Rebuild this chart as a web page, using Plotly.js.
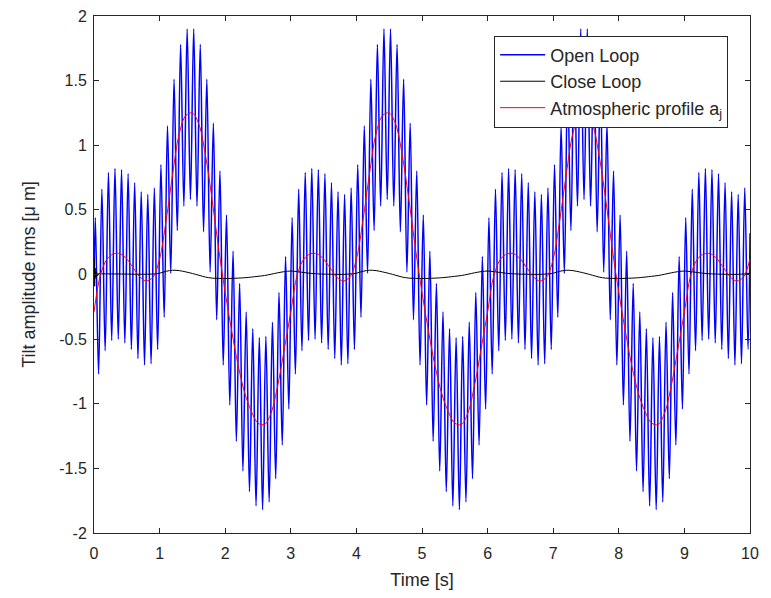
<!DOCTYPE html>
<html>
<head>
<meta charset="utf-8">
<script src="https://cdn.plot.ly/plotly-3.0.1.min.js"></script>
<style>
  html, body { margin: 0; padding: 0; background: #ffffff; }
  #chart { width: 771px; height: 598px; }
</style>
</head>
<body>
<div id="chart"></div>
<script>
// ---- Data ----
// Atmospheric profile a_j, sampled every 0.1 s from 0 to 10 s
const redStep = 0.1;
const redVals = [
  -0.29, 0.00, 0.12, 0.16, 0.16, 0.12, 0.05, -0.02, -0.05, -0.02,
  0.12, 0.42, 0.78, 1.09, 1.23, 1.25, 1.16, 0.92, 0.58, 0.20,
  -0.14, -0.44, -0.71, -0.92, -1.06, -1.15, -1.16, -1.07, -0.86, -0.58,
  -0.29, 0.00, 0.12, 0.16, 0.16, 0.12, 0.05, -0.02, -0.05, -0.02,
  0.12, 0.42, 0.78, 1.09, 1.23, 1.25, 1.16, 0.92, 0.58, 0.20,
  -0.14, -0.44, -0.71, -0.92, -1.06, -1.15, -1.16, -1.07, -0.86, -0.58,
  -0.29, 0.00, 0.12, 0.16, 0.16, 0.12, 0.05, -0.02, -0.05, -0.02,
  0.12, 0.42, 0.78, 1.09, 1.23, 1.25, 1.16, 0.92, 0.58, 0.20,
  -0.14, -0.44, -0.71, -0.92, -1.06, -1.15, -1.16, -1.07, -0.86, -0.58,
  -0.29, 0.00, 0.12, 0.16, 0.16, 0.12, 0.05, -0.02, -0.05, -0.02,
  0.12
];

// Open loop: local maxima (at 0.02 + 0.1k s) and minima (at 0.07 + 0.1k s)
const openStart = -0.09;   // value at t = 0
const openEnd = 0.32;      // value at t = 10
const openPeaks = [
  0.44, 0.66, 0.79, 0.82, 0.81, 0.78, 0.71, 0.64, 0.62, 0.67,
  0.85, 1.15, 1.51, 1.78, 1.90, 1.90, 1.78, 1.51, 1.17, 0.80,
  0.46, 0.18, -0.07, -0.29, -0.42, -0.49, -0.48, -0.37, -0.14, 0.14,
  0.44, 0.66, 0.79, 0.82, 0.81, 0.78, 0.71, 0.64, 0.62, 0.67,
  0.85, 1.15, 1.51, 1.78, 1.90, 1.90, 1.78, 1.51, 1.17, 0.80,
  0.46, 0.18, -0.07, -0.29, -0.42, -0.49, -0.48, -0.37, -0.14, 0.14,
  0.44, 0.66, 0.79, 0.82, 0.81, 0.78, 0.71, 0.64, 0.62, 0.67,
  0.85, 1.15, 1.51, 1.78, 1.90, 1.90, 1.78, 1.51, 1.17, 0.80,
  0.46, 0.18, -0.07, -0.29, -0.42, -0.49, -0.48, -0.37, -0.14, 0.14,
  0.44, 0.66, 0.79, 0.82, 0.81, 0.78, 0.71, 0.64, 0.62, 0.67
];
const openTroughs = [
  -0.77, -0.59, -0.51, -0.50, -0.53, -0.58, -0.65, -0.70, -0.69, -0.58,
  -0.33, 0.01, 0.34, 0.53, 0.58, 0.53, 0.33, 0.02, -0.35, -0.70,
  -1.01, -1.29, -1.52, -1.68, -1.79, -1.82, -1.76, -1.58, -1.32, -1.04,
  -0.77, -0.59, -0.51, -0.50, -0.53, -0.58, -0.65, -0.70, -0.69, -0.58,
  -0.33, 0.01, 0.34, 0.53, 0.58, 0.53, 0.33, 0.02, -0.35, -0.70,
  -1.01, -1.29, -1.52, -1.68, -1.79, -1.82, -1.76, -1.58, -1.32, -1.04,
  -0.77, -0.59, -0.51, -0.50, -0.53, -0.58, -0.65, -0.70, -0.69, -0.58,
  -0.33, 0.01, 0.34, 0.53, 0.58, 0.53, 0.33, 0.02, -0.35, -0.70,
  -1.01, -1.29, -1.52, -1.68, -1.79, -1.82, -1.76, -1.58, -1.32, -1.04,
  -0.77, -0.59, -0.51, -0.50, -0.53, -0.58, -0.65, -0.70, -0.69, -0.58
];

// Close loop: start-up transient, then samples every 0.1 s from 0.1 to 10 s
const closeStartT = [0, 0.004, 0.01, 0.018, 0.028, 0.04, 0.055, 0.07];
const closeStartV = [0.00, 0.13, -0.09, 0.05, -0.03, 0.02, -0.01, 0.008];
const closeVals = [
  0.005, 0.005, 0.004, 0.004, 0.003, 0.002, 0.002, 0.002, 0.004,
  0.010, 0.025, 0.033, 0.030, 0.020, 0.008, -0.006, -0.020, -0.028, -0.030,
  -0.031, -0.030, -0.028, -0.025, -0.020, -0.014, -0.008, 0.002, 0.013, 0.022,
  0.027, 0.022, 0.015, 0.009, 0.005, 0.003, 0.002, 0.001, 0.001, 0.004,
  0.010, 0.025, 0.033, 0.030, 0.020, 0.008, -0.006, -0.020, -0.028, -0.030,
  -0.031, -0.030, -0.028, -0.025, -0.020, -0.014, -0.008, 0.002, 0.013, 0.022,
  0.027, 0.022, 0.015, 0.009, 0.005, 0.003, 0.002, 0.001, 0.001, 0.004,
  0.010, 0.025, 0.033, 0.030, 0.020, 0.008, -0.006, -0.020, -0.028, -0.030,
  -0.031, -0.030, -0.028, -0.025, -0.020, -0.014, -0.008, 0.002, 0.013, 0.022,
  0.027, 0.022, 0.015, 0.009, 0.005, 0.003, 0.002, 0.001, 0.001, 0.004,
  0.010
];

const xTicks = [0, 1, 2, 3, 4, 5, 6, 7, 8, 9, 10];
const yTicks = [-2, -1.5, -1, -0.5, 0, 0.5, 1, 1.5, 2];
const yTickText = ['-2', '-1.5', '-1', '-0.5', '0', '0.5', '1', '1.5', '2'];

// ---- Build traces (sample grids only) ----
const redT = redVals.map((_, i) => +(i * redStep).toFixed(3));

const openT = [0], openV = [openStart];
for (let k = 0; k < openPeaks.length; k++) {
  openT.push(+(0.02 + 0.1 * k).toFixed(3)); openV.push(openPeaks[k]);
  openT.push(+(0.07 + 0.1 * k).toFixed(3)); openV.push(openTroughs[k]);
}
openT.push(10); openV.push(openEnd);

const closeT = closeStartT.slice(), closeV = closeStartV.slice();
closeVals.forEach((v, i) => { closeT.push(+(0.1 + 0.1 * i).toFixed(3)); closeV.push(v); });

const axisColor = '#262626';
const fontFam = 'Liberation Sans, Arial, Helvetica, sans-serif';

const traces = [
  { x: openT, y: openV, type: 'scatter', mode: 'lines', name: 'Open Loop',
    line: { color: '#0000ff', width: 1.5, shape: 'spline', smoothing: 1 } },
  { x: closeT, y: closeV, type: 'scatter', mode: 'lines', name: 'Close Loop',
    line: { color: '#000000', width: 1, shape: 'spline', smoothing: 0.8 } },
  { x: redT, y: redVals, type: 'scatter', mode: 'lines', name: 'Atmospheric profile a<sub>j</sub>',
    line: { color: '#ff0000', width: 1, shape: 'spline', smoothing: 1 } }
];

const layout = {
  width: 771, height: 598,
  paper_bgcolor: '#ffffff', plot_bgcolor: '#ffffff',
  margin: { l: 94, r: 21, t: 16, b: 65 },
  font: { family: fontFam, size: 16, color: axisColor },
  showlegend: true,
  legend: {
    x: 0.61, y: 0.962, xanchor: 'left', yanchor: 'top',
    bgcolor: '#ffffff', bordercolor: axisColor, borderwidth: 1,
    font: { family: fontFam, size: 18, color: axisColor },
    tracegroupgap: 0, itemwidth: 45
  },
  xaxis: {
    range: [0, 10], tickvals: xTicks, ticktext: xTicks.map(String),
    ticks: 'inside', ticklen: 5, tickcolor: axisColor, tickwidth: 1,
    showline: true, linecolor: axisColor, linewidth: 1, mirror: 'ticks',
    showgrid: false, zeroline: false, ticklabelstandoff: 6,
    tickfont: { family: fontFam, size: 16, color: axisColor },
    title: { text: 'Time [s]', font: { family: fontFam, size: 18, color: axisColor }, standoff: 12 }
  },
  yaxis: {
    range: [-2, 2], tickvals: yTicks, ticktext: yTickText,
    ticks: 'inside', ticklen: 5, tickcolor: axisColor, tickwidth: 1,
    showline: true, linecolor: axisColor, linewidth: 1, mirror: 'ticks',
    showgrid: false, zeroline: false, ticklabelstandoff: 3,
    tickfont: { family: fontFam, size: 16, color: axisColor },
    title: { text: 'Tilt amplitude rms [μ m]', font: { family: fontFam, size: 18, color: axisColor }, standoff: 18 }
  }
};

Plotly.newPlot('chart', traces, layout, { displayModeBar: false, staticPlot: true });
</script>
</body>
</html>
